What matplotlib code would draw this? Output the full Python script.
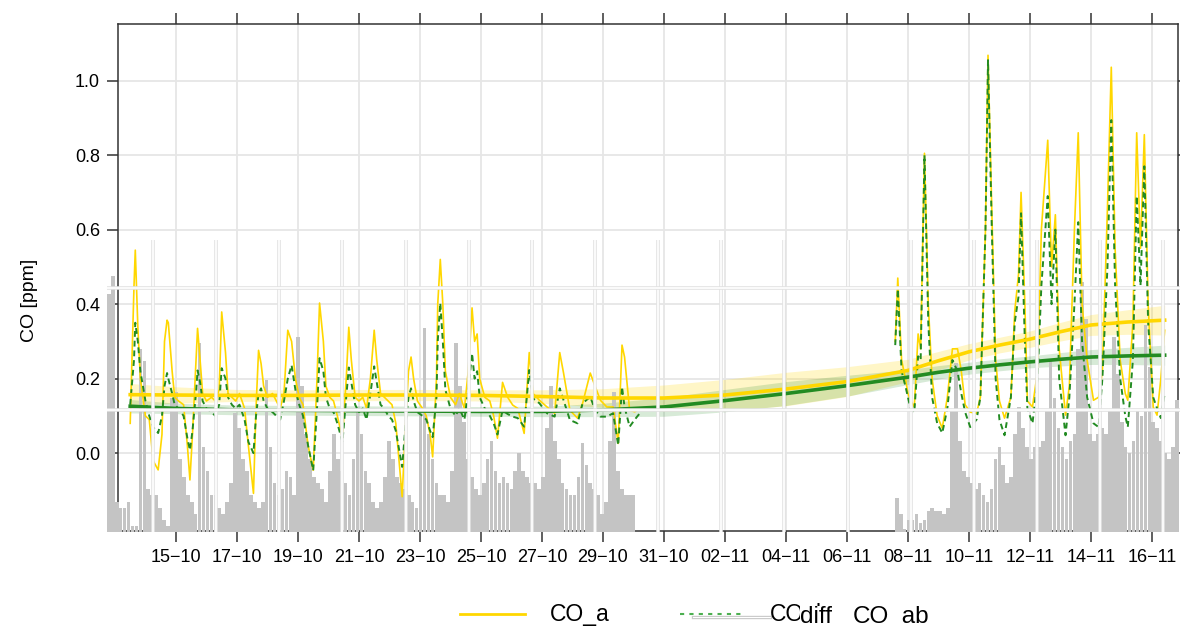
import numpy as np
import pandas as pd
import matplotlib
matplotlib.use("Agg")
import matplotlib.pyplot as plt
import matplotlib.dates as mdates
from matplotlib.lines import Line2D

plt.rcParams['font.family'] = ['Liberation Sans', 'DejaVu Sans']

start = pd.Timestamp('2015-10-13')

# Messwerte CO [ppm], Zeit in Stunden ab 13.10. 00:00 (Abschnitt 1: bis 30.10.)
h_1 = [12, 15, 16, 18, 20, 24, 27, 30, 34, 37, 39, 41, 42, 45, 47, 50, 54, 57, 59, 61,
       64, 65, 67, 69, 72, 76, 79, 82, 84, 87, 89, 92, 95, 98, 102, 105, 109, 111, 113, 115,
       117, 120, 124, 127, 130, 133, 136, 139, 142, 145, 148, 152, 156, 159, 161, 164, 166, 169, 172, 175,
       179, 182, 184, 186, 189, 192, 195, 198, 201, 204, 206, 209, 212, 215, 218, 221, 226, 229, 231, 233,
       235, 238, 242, 245, 248, 250, 253, 254, 256, 258, 260, 264, 268, 271, 275, 278, 281, 283, 285, 287,
       291, 295, 298, 301, 305, 309, 313, 317, 322, 326, 329, 334, 340, 346, 350, 353, 358, 364, 368, 374,
       378, 382, 387, 392, 396, 399, 401, 405, 409, 413]
co_a_1 = [0.08, 0.45, 0.545, 0.34, 0.20, 0.10, 0.09, -0.02, -0.045, 0.05, 0.30, 0.357, 0.35, 0.22, 0.15, 0.14, 0.13, 0.02, -0.072, 0.05,
          0.26, 0.335, 0.25, 0.16, 0.14, 0.15, 0.14, 0.17, 0.379, 0.27, 0.16, 0.15, 0.14, 0.16, 0.12, 0.02, -0.108, 0.12, 0.276, 0.24,
          0.18, 0.15, 0.16, 0.14, 0.12, 0.16, 0.33, 0.30, 0.20, 0.15, 0.13, 0.02, -0.046, 0.20, 0.403, 0.30, 0.18, 0.15, 0.14, 0.10,
          0.04, 0.20, 0.338, 0.25, 0.15, 0.14, 0.15, 0.12, 0.20, 0.33, 0.25, 0.16, 0.15, 0.14, 0.13, 0.08, -0.117, 0.10, 0.22, 0.258,
          0.20, 0.14, 0.12, 0.10, 0.05, -0.01, 0.20, 0.40, 0.52, 0.40, 0.22, 0.15, 0.13, 0.16, 0.12, 0.22, 0.39, 0.30, 0.32, 0.20,
          0.15, 0.14, 0.10, 0.04, 0.19, 0.15, 0.129, 0.12, 0.053, 0.27, 0.16, 0.142, 0.124, 0.107, 0.27, 0.215, 0.115, 0.094, 0.134, 0.215,
          0.178, 0.142, 0.124, 0.124, 0.026, 0.29, 0.258, 0.115, 0.111, 0.12]
co_b_1 = [0.13, 0.25, 0.35, 0.30, 0.22, 0.14, 0.10, 0.07, 0.054, 0.10, 0.18, 0.215, 0.20, 0.16, 0.13, 0.12, 0.10, 0.04, 0.008, 0.06,
          0.17, 0.222, 0.19, 0.14, 0.12, 0.11, 0.10, 0.13, 0.228, 0.20, 0.15, 0.13, 0.12, 0.13, 0.09, 0.03, 0.0, 0.10, 0.16, 0.174,
          0.14, 0.12, 0.11, 0.10, 0.09, 0.14, 0.20, 0.236, 0.17, 0.13, 0.10, 0.02, -0.046, 0.12, 0.255, 0.22, 0.15, 0.12, 0.11, 0.08,
          0.03, 0.15, 0.23, 0.19, 0.13, 0.11, 0.12, 0.09, 0.16, 0.233, 0.19, 0.13, 0.12, 0.10, 0.09, 0.06, -0.037, 0.09, 0.15, 0.174,
          0.14, 0.11, 0.10, 0.09, 0.06, 0.043, 0.15, 0.30, 0.403, 0.30, 0.17, 0.12, 0.10, 0.12, 0.09, 0.17, 0.268, 0.20, 0.22, 0.15,
          0.12, 0.10, 0.08, 0.05, 0.115, 0.105, 0.098, 0.094, 0.071, 0.223, 0.147, 0.134, 0.107, 0.098, 0.174, 0.142, 0.089, 0.08, 0.134, 0.151,
          0.115, 0.098, 0.098, 0.107, 0.021, 0.178, 0.124, 0.071, 0.09, 0.107]

# Abschnitt 2: ab 08.11.
h_2 = [614, 616, 619, 622, 624, 626, 629, 632, 634, 637, 640, 643, 647, 651, 655, 659, 663, 666, 669, 673,
       678, 681, 685, 687, 690, 693, 696, 700, 705, 708, 711, 713, 716, 718, 722, 726, 729, 734, 737, 740,
       743, 748, 751, 755, 758, 761, 765, 770, 774, 777, 781, 784, 787, 791, 795, 797, 801, 804, 807, 810,
       813, 817, 820, 823, 826]
co_a_2 = [0.30, 0.47, 0.25, 0.20, 0.16, 0.142, 0.124, 0.32, 0.28, 0.805, 0.40, 0.20, 0.10, 0.067, 0.15, 0.28, 0.28, 0.22, 0.13, 0.11,
          0.107, 0.15, 0.60, 1.068, 0.65, 0.25, 0.14, 0.094, 0.15, 0.38, 0.48, 0.70, 0.40, 0.14, 0.124, 0.22, 0.60, 0.84, 0.50, 0.64,
          0.28, 0.102, 0.18, 0.60, 0.86, 0.40, 0.25, 0.142, 0.15, 0.22, 0.66, 1.036, 0.55, 0.25, 0.16, 0.142, 0.35, 0.86, 0.55, 0.855,
          0.40, 0.124, 0.102, 0.20, 0.33]
co_b_2 = [0.29, 0.44, 0.22, 0.18, 0.15, 0.12, 0.11, 0.26, 0.25, 0.80, 0.35, 0.15, 0.08, 0.054, 0.12, 0.25, 0.22, 0.16, 0.11, 0.07,
          0.09, 0.15, 0.60, 1.055, 0.60, 0.20, 0.09, 0.048, 0.15, 0.35, 0.42, 0.644, 0.30, 0.12, 0.08, 0.20, 0.45, 0.69, 0.40, 0.60,
          0.20, 0.048, 0.15, 0.40, 0.62, 0.30, 0.15, 0.08, 0.07, 0.20, 0.50, 0.894, 0.45, 0.20, 0.10, 0.07, 0.25, 0.69, 0.45, 0.77,
          0.35, 0.15, 0.12, 0.094, 0.16]

# geglaetteter Verlauf mit Konfidenzband
h_trend = [12, 48, 96, 144, 192, 240, 288, 336, 384, 432, 480, 528, 576, 624, 648, 672, 696, 720, 744, 768, 797, 826]
trend_a = [0.157, 0.156, 0.155, 0.155, 0.156, 0.156, 0.155, 0.152, 0.148, 0.148, 0.156, 0.172, 0.192, 0.222, 0.248, 0.272, 0.29,
           0.306, 0.326, 0.344, 0.352, 0.357]
band_a = [0.03, 0.022, 0.016, 0.015, 0.015, 0.015, 0.015, 0.018, 0.025, 0.035, 0.042, 0.045, 0.04, 0.03, 0.025, 0.022, 0.021,
          0.022, 0.025, 0.028, 0.033, 0.04]
trend_b = [0.126, 0.12, 0.116, 0.115, 0.114, 0.113, 0.112, 0.112, 0.116, 0.124, 0.141, 0.16, 0.181, 0.204, 0.217, 0.228, 0.237,
           0.245, 0.252, 0.258, 0.261, 0.263]
band_b = [0.018, 0.014, 0.013, 0.013, 0.013, 0.013, 0.013, 0.014, 0.018, 0.025, 0.03, 0.032, 0.028, 0.02, 0.018, 0.016, 0.016,
          0.016, 0.018, 0.02, 0.023, 0.027]

# Differenz als 3h-Balken
h_bar_1 = 13
diff_1 = [0.39, 0.42, 0.05, 0.04, 0.04, 0.05, 0.01, 0.01, 0.30, 0.28, 0.07, 0.06, 0.06, 0.04, 0.02, 0.01, 0.22, 0.23, 0.12, 0.09,
          0.06, 0.05, 0.03, 0.31, 0.14, 0.10, 0.06, 0.06, 0.04, 0.03, 0.05, 0.08, 0.195, 0.17, 0.12, 0.10, 0.06, 0.05, 0.04, 0.05,
          0.25, 0.14, 0.08, 0.06, 0.07, 0.10, 0.09, 0.06, 0.32, 0.24, 0.16, 0.12, 0.09, 0.08, 0.07, 0.05, 0.10, 0.16, 0.12, 0.10,
          0.08, 0.06, 0.12, 0.20, 0.16, 0.10, 0.08, 0.05, 0.04, 0.05, 0.09, 0.15, 0.12, 0.09, 0.08, 0.07, 0.06, 0.05, 0.04, 0.20,
          0.335, 0.16, 0.12, 0.08, 0.06, 0.06, 0.05, 0.10, 0.31, 0.24, 0.18, 0.12, 0.09, 0.07, 0.06, 0.08, 0.12, 0.15, 0.10, 0.08,
          0.09, 0.08, 0.07, 0.10, 0.13, 0.10, 0.09, 0.08, 0.08, 0.07, 0.09, 0.17, 0.24, 0.15, 0.12, 0.08, 0.07, 0.06, 0.06, 0.09,
          0.146, 0.11, 0.08, 0.07, 0.06, 0.03, 0.05, 0.15, 0.23, 0.10, 0.07, 0.06, 0.06, 0.06]
h_bar_2 = 612
diff_2 = [0.056, 0.03, 0.005, 0.02, 0.02, 0.03, 0.015, 0.02, 0.035, 0.04, 0.035, 0.035, 0.03, 0.04, 0.20, 0.277, 0.15, 0.10, 0.09, 0.08,
          0.07, 0.08, 0.06, 0.05, 0.07, 0.12, 0.14, 0.11, 0.08, 0.09, 0.16, 0.205, 0.17, 0.14, 0.12, 0.14, 0.14, 0.15, 0.20, 0.28,
          0.22, 0.17, 0.14, 0.12, 0.15, 0.16, 0.30, 0.41, 0.35, 0.16, 0.15, 0.16, 0.17, 0.16, 0.20, 0.32, 0.26, 0.18, 0.14, 0.13,
          0.15, 0.20, 0.19, 0.34, 0.27, 0.18, 0.17, 0.15, 0.13, 0.12, 0.14, 0.216]

gelb = '#FFD700'
gruen = '#228B22'


def zeit(stunden):
    return start + pd.to_timedelta(np.asarray(stunden, dtype=float), unit='h')


def zeitpunkt(stunde):
    return start + pd.Timedelta(hours=stunde)


W, H = 1180, 626
fig = plt.figure(figsize=(W / 100, H / 100), dpi=100)
rect_co = [118 / W, 1 - 531 / H, 1060 / W, 507 / H]
rect_diff = [107 / W, 1 - 532 / H, 1073 / W, 292 / H]
tage = pd.date_range('2015-10-15', '2015-11-16', freq='2D')

# Hintergrund: Achsen, Gitter, Konfidenzbaender
ax = fig.add_axes(rect_co)
ax.set_zorder(1)
ta = np.array(trend_a)
tb = np.array(trend_b)
ax.fill_between(zeit(h_trend), ta - band_a, ta + band_a, color=gelb, alpha=0.22, lw=0)
ax.fill_between(zeit(h_trend), tb - band_b, tb + band_b, color=gruen, alpha=0.18, lw=0)
ax.set_xlim(zeitpunkt(2.4), zeitpunkt(836.5))
ax.set_ylim(-0.209, 1.152)
ax.set_yticks([0.0, 0.2, 0.4, 0.6, 0.8, 1.0])
ax.set_xticks(tage)
ax.xaxis.set_major_formatter(mdates.DateFormatter('%d\u2212%m'))
ax.grid(True, color='#e6e6e6', lw=1.3)
ax.set_axisbelow(True)
ax.tick_params(direction='out', length=8, width=1.1, color='#333333', labelsize=13,
               top=True, right=True, labeltop=False, labelright=False, pad=5)
for s in ax.spines.values():
    s.set_color('#333333')
    s.set_linewidth(1.1)

fig.text(30 / W, 1 - 300 / H, 'CO [ppm]', rotation=90, ha='center', va='center', fontsize=14)

# Differenz als Balken
ax2 = fig.add_axes(rect_diff)
ax2.set_zorder(2)
ax2.patch.set_visible(False)
ax2.bar(zeit(h_bar_1 + 3 * np.arange(len(diff_1))), diff_1, width=0.115, align='edge',
        color='#c4c4c4', linewidth=0)
ax2.bar(zeit(h_bar_2 + 3 * np.arange(len(diff_2))), diff_2, width=0.115, align='edge',
        color='#c4c4c4', linewidth=0)
ax2.set_xlim(zeitpunkt(13), zeitpunkt(828.7))
ax2.set_ylim(0, 0.479)
ax2.axis('off')

# Zeitreihen und Trend ueber den Balken
ax_l = fig.add_axes(rect_co, sharex=ax, sharey=ax)
ax_l.set_zorder(3)
ax_l.patch.set_visible(False)
for hh, a, b in [(h_1, co_a_1, co_b_1), (h_2, co_a_2, co_b_2)]:
    ax_l.plot(zeit(hh), a, color=gelb, lw=1.2)
    ax_l.plot(zeit(hh), b, color=gruen, lw=1.4, ls=(0, (3, 2)))
ax_l.plot(zeit(h_trend), ta, color=gelb, lw=2.6)
ax_l.plot(zeit(h_trend), tb, color=gruen, lw=2.6)
ax_l.axis('off')

# Gitter der Differenz-Grafik ganz oben
ax3 = fig.add_axes(rect_diff)
ax3.set_zorder(4)
ax3.patch.set_visible(False)
for d in tage:
    ax3.axvline(d, color='#e2e2e2', lw=2.6)
    ax3.axvline(d, color='white', lw=1.2)
for y in [0.2, 0.4]:
    ax3.axhline(y, color='#e2e2e2', lw=2.6)
    ax3.axhline(y, color='white', lw=1.2)
ax3.set_xlim(zeitpunkt(13), zeitpunkt(828.7))
ax3.set_ylim(0, 0.479)
ax3.axis('off')

# Legende unten
fig.add_artist(Line2D([460 / W, 525 / W], [1 - 614 / H] * 2, color=gelb, lw=2))
fig.text(550 / W, 1 - 621 / H, 'CO_a', fontsize=16.5, va='baseline')
fig.add_artist(Line2D([680 / W, 742 / W], [1 - 614 / H] * 2, color='#4caf50', lw=1.5, ls=(0, (2, 2.5))))
fig.add_artist(Line2D([693 / W, 770 / W], [1 - 616.5 / H] * 2, color='#c8c8c8', lw=2.4))
fig.add_artist(Line2D([693 / W, 770 / W], [1 - 616.5 / H] * 2, color='white', lw=0.8))
fig.text(770 / W, 1 - 621 / H, 'CO_b', fontsize=16.5, va='baseline')
fig.text(800 / W, 1 - 623 / H, 'diff', fontsize=17.5, va='baseline',
         bbox=dict(fc='white', ec='none', pad=0.3))
fig.text(853 / W, 1 - 623.5 / H, 'CO_ab', fontsize=17.5, va='baseline')

fig.savefig('out.png', dpi=100)
